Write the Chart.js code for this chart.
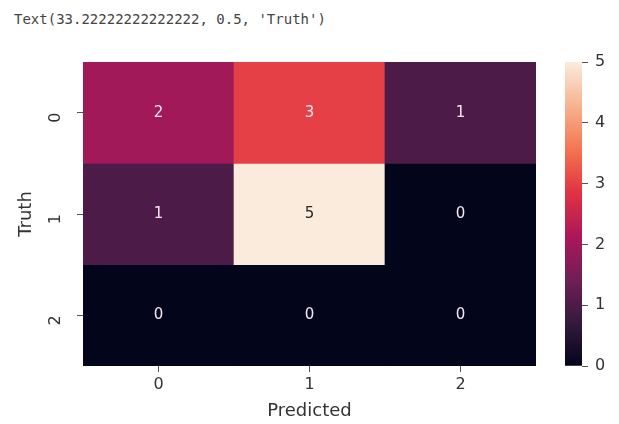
<!DOCTYPE html>
<html>
<head>
<meta charset="utf-8">
<script src="https://cdn.jsdelivr.net/npm/chart.js@4.4.1/dist/chart.umd.min.js"></script>
<style>
  body { margin: 0; background: #fff; width: 619px; height: 424px; overflow: hidden; position: relative; }
  #note { position: absolute; left: 14px; top: 11px; font: 14px "DejaVu Sans Mono", monospace; color: #444; }
  #heat { position: absolute; left: 0; top: 0; }
  #bar { position: absolute; left: 540px; top: 0; }
</style>
</head>
<body>
<div id="note">Text(33.22222222222222, 0.5, 'Truth')</div>
<canvas id="heat" width="619" height="424"></canvas>
<canvas id="bar" width="79" height="424"></canvas>
<script>
const predicted = ['0', '1', '2'];
const truth = ['0', '1', '2'];
const counts = [
  [2, 3, 1],
  [1, 5, 0],
  [0, 0, 0]
];
const cbTicks = [0, 1, 2, 3, 4, 5];

// seaborn "rocket" colormap, sampled
const rocket = [
  [0, '#03051a'], [1 / 7, '#35193e'], [2 / 7, '#701f57'], [3 / 7, '#ad1759'],
  [4 / 7, '#e13342'], [5 / 7, '#f37651'], [6 / 7, '#f6b48f'], [1, '#faebdd']
];
const vmax = 5;

function hex(c) { return [1, 3, 5].map(i => parseInt(c.substr(i, 2), 16)); }
function colorAt(t) {
  for (let i = 1; i < rocket.length; i++) {
    if (t <= rocket[i][0]) {
      const [t0, c0] = rocket[i - 1], [t1, c1] = rocket[i];
      const f = (t - t0) / (t1 - t0);
      const a = hex(c0), b = hex(c1);
      return 'rgb(' + a.map((v, k) => Math.round(v + (b[k] - v) * f)).join(',') + ')';
    }
  }
  return rocket[rocket.length - 1][1];
}

const tickFont = { family: 'DejaVu Sans', size: 16 };
const titleFont = { family: 'DejaVu Sans', size: 18 };
const textColor = '#333';

const annotate = {
  id: 'annotate',
  afterDatasetsDraw(chart) {
    const ctx = chart.ctx;
    ctx.save();
    ctx.font = '15px "DejaVu Sans"';
    ctx.textAlign = 'center';
    ctx.textBaseline = 'middle';
    chart.data.datasets.forEach((ds, r) => {
      chart.getDatasetMeta(r).data.forEach((el, c) => {
        const v = counts[r][c];
        const p = el.getCenterPoint();
        ctx.fillStyle = v / vmax > 0.6 ? '#262626' : '#f4e6ee';
        ctx.fillText(String(v), p.x, p.y);
      });
    });
    ctx.restore();
  }
};

new Chart(document.getElementById('heat'), {
  type: 'bar',
  data: {
    labels: predicted,
    datasets: truth.map((t, r) => ({
      label: 'Truth ' + t,
      data: predicted.map(() => 1),
      backgroundColor: counts[r].map(v => colorAt(v / vmax)),
      borderWidth: 0,
      barPercentage: 1,
      categoryPercentage: 1
    }))
  },
  options: {
    responsive: false,
    animation: false,
    layout: { padding: { top: 62, right: 83, left: 0, bottom: 0 } },
    plugins: { legend: { display: false }, tooltip: { enabled: false } },
    scales: {
      x: {
        stacked: true,
        grid: { offset: false, drawOnChartArea: false, tickLength: 6, tickColor: '#555' },
        border: { display: false },
        ticks: { color: textColor, font: tickFont, padding: 3 },
        title: { display: true, text: 'Predicted', color: textColor, font: titleFont, padding: { top: 0, bottom: 2 } },
        afterFit(s) { s.height = 58; }
      },
      y: {
        stacked: true,
        min: 0,
        max: truth.length,
        reverse: true,
        afterBuildTicks(s) { s.ticks = truth.map((t, i) => ({ value: i + 0.5 })); },
        grid: { drawOnChartArea: false, tickLength: 6, tickColor: '#555' },
        border: { display: false },
        ticks: {
          color: textColor, font: tickFont, minRotation: 90, maxRotation: 90, padding: 21,
          callback: v => truth[Math.floor(v)]
        },
        title: { display: true, text: 'Truth', color: textColor, font: titleFont, padding: { top: 16, bottom: 8 } },
        afterFit(s) { s.width = 83; }
      }
    }
  },
  plugins: [annotate]
});

new Chart(document.getElementById('bar'), {
  type: 'bar',
  data: {
    labels: ['scale'],
    datasets: [{
      data: [[0, vmax]],
      borderWidth: 0,
      barPercentage: 1,
      categoryPercentage: 1,
      backgroundColor(c) {
        const a = c.chart.chartArea;
        if (!a) return '#000';
        const g = c.chart.ctx.createLinearGradient(0, a.bottom, 0, a.top);
        rocket.forEach(([t, col]) => g.addColorStop(t, col));
        return g;
      }
    }]
  },
  options: {
    responsive: false,
    animation: false,
    layout: { padding: { top: 62, bottom: 58, left: 25, right: 0 } },
    plugins: { legend: { display: false }, tooltip: { enabled: false } },
    scales: {
      x: { display: false },
      y: {
        position: 'right',
        min: 0,
        max: vmax,
        afterBuildTicks(s) { s.ticks = cbTicks.map(v => ({ value: v })); },
        grid: { drawOnChartArea: false, tickLength: 6, tickColor: '#555' },
        border: { display: false },
        ticks: { color: textColor, font: tickFont, padding: 7 },
        afterFit(s) { s.width = 37; }
      }
    }
  }
});
</script>
</body>
</html>
